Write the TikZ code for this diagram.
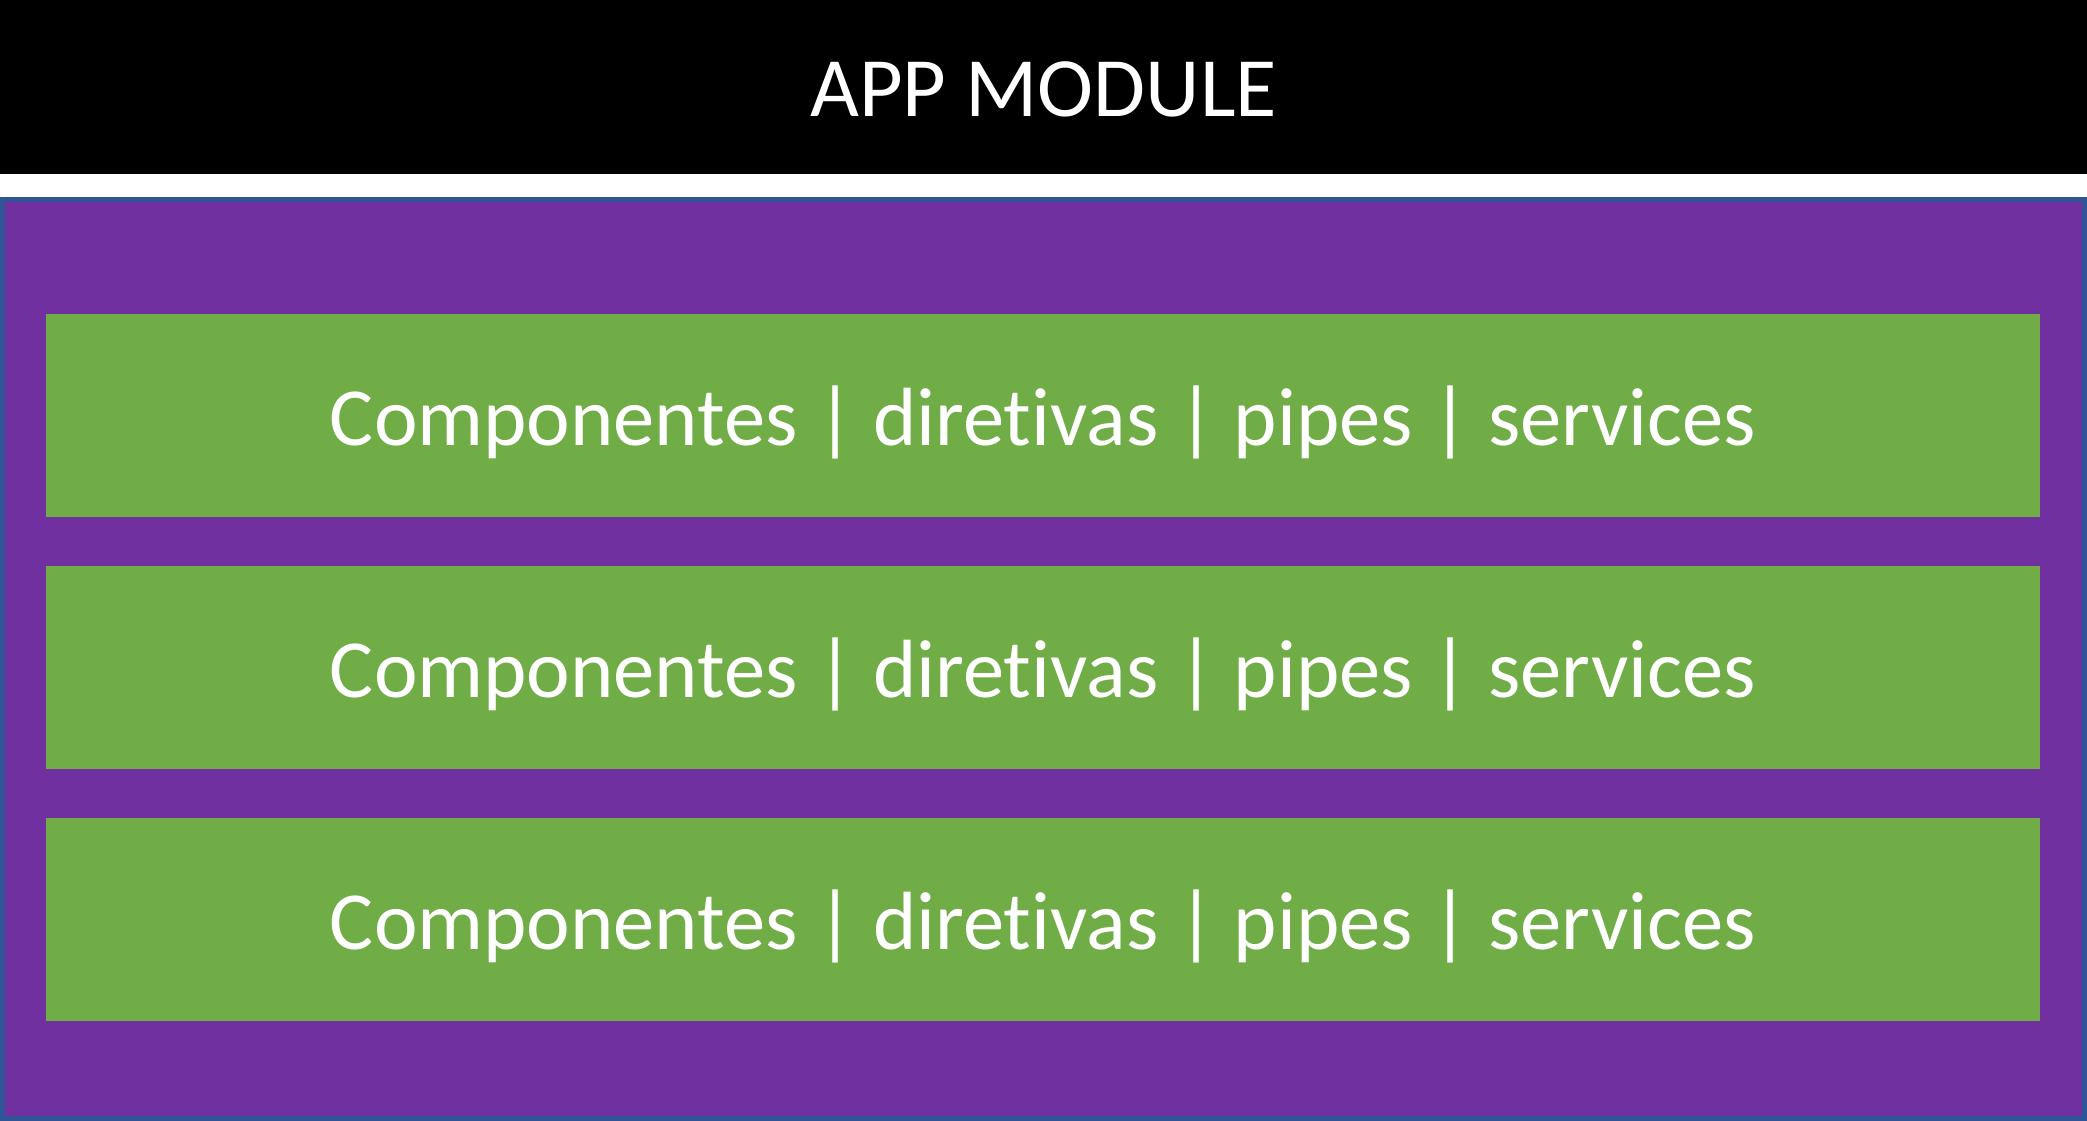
\documentclass[tikz,border=0pt]{standalone}
\usepackage{fontspec}
\setmainfont{Carlito}[Ligatures={NoCommon}]
\definecolor{modpurple}{HTML}{7030A0}
\definecolor{modgreen}{HTML}{70AD47}
\definecolor{modblue}{HTML}{2F5597}
\begin{document}
\begin{tikzpicture}[x=1pt,y=-1pt,
  layerbox/.style={fill=modgreen, draw=none, minimum width=1994pt, minimum height=203pt, inner sep=0pt},
  layertext/.style={text=white, inner sep=0pt, font=\fontsize{82.6}{90}\selectfont},
  titlebar/.style={fill=black, draw=none, minimum width=2087pt, minimum height=174pt, inner sep=0pt},
  titletext/.style={text=white, inner sep=0pt, font=\fontsize{84.5}{96}\selectfont}]
\useasboundingbox (0,0) rectangle (2087,1121);
\fill[white] (0,0) rectangle (2087,1121);
\node[titlebar] (title) at (1043.5,87) {};
\node[titletext] (titlet) at ([yshift=-2.5pt]title.center) {APP MODULE};
\fill[modblue] (0,197) rectangle (2087,1121);
\fill[modpurple] (5,202) rectangle (2082,1116);
\node[layerbox] (l1) at (1043,415) {};
\node[layerbox] (l2) at (1043,667.5) {};
\node[layerbox] (l3) at (1043,919.5) {};
\node[layertext] (t1) at ([yshift=-7pt]l1.center) {Componentes | diretivas | pipes | services};
\node[layertext] (t2) at ([yshift=-7pt]l2.center) {Componentes | diretivas | pipes | services};
\node[layertext] (t3) at ([yshift=-7pt]l3.center) {Componentes | diretivas | pipes | services};
\end{tikzpicture}
\end{document}
